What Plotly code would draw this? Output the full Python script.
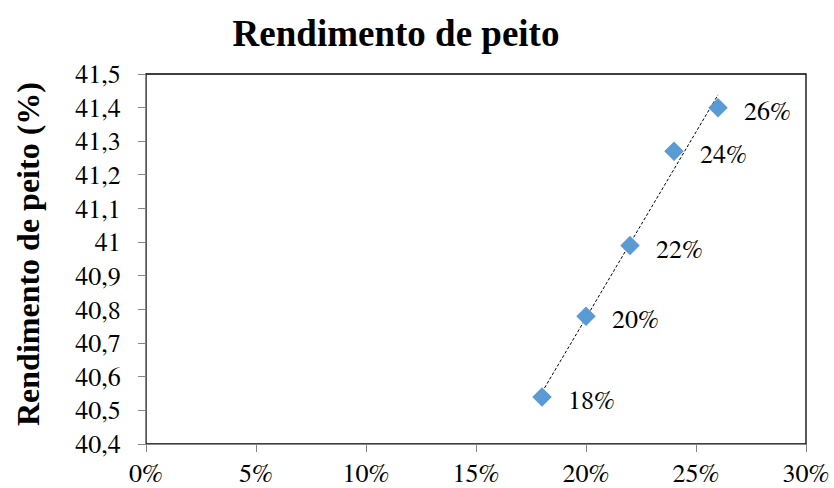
import numpy as np
import plotly.graph_objects as go

# Data
protein_level = [0.18, 0.20, 0.22, 0.24, 0.26]
breast_yield = [40.54, 40.78, 40.99, 41.27, 41.40]
point_labels = ["18%", "20%", "22%", "24%", "26%"]
y_tick_values = [40.4, 40.5, 40.6, 40.7, 40.8, 40.9, 41.0, 41.1, 41.2, 41.3, 41.4, 41.5]
y_tick_labels = ["40,4", "40,5", "40,6", "40,7", "40,8", "40,9", "41", "41,1", "41,2", "41,3", "41,4", "41,5"]
x_tick_values = [0, 0.05, 0.10, 0.15, 0.20, 0.25, 0.30]
x_tick_labels = ["0%", "5%", "10%", "15%", "20%", "25%", "30%"]

FONT_BOLD = "Liberation Serif, Times New Roman, serif"
FONT_REG = "FreeSerif, Liberation Serif, Times New Roman, serif"
W, H = 834, 488
L, R, T, B = 146, 28, 74, 44

# linear trendline (least squares fit of the series)
slope, intercept = np.polyfit(protein_level, breast_yield, 1)
tx = [min(protein_level), max(protein_level)]
ty = [slope * v + intercept for v in tx]

fig = go.Figure()
fig.add_trace(go.Scatter(
    x=tx, y=ty, mode="lines",
    line=dict(color="black", width=1, dash="3px,2px"),
    hoverinfo="skip", showlegend=False,
))
fig.add_trace(go.Scatter(
    x=protein_level, y=breast_yield, mode="markers",
    marker=dict(symbol="diamond", size=15, color="#5B9BD5", line=dict(width=0)),
    showlegend=False,
))

for xv, yv, lab in zip(protein_level, breast_yield, point_labels):
    fig.add_annotation(
        x=xv, y=yv, text=lab, showarrow=False,
        xanchor="left", yanchor="middle", xshift=24, yshift=-4,
        font=dict(family=FONT_REG, size=26, color="black"),
    )

fig.add_annotation(
    xref="paper", yref="paper",
    x=(28 - L) / (W - L - R), y=(H - B - 254) / (H - T - B),
    text="<b>Rendimento de peito (%)</b>", textangle=-90, showarrow=False,
    xanchor="center", yanchor="middle",
    font=dict(family=FONT_BOLD, size=32, color="black"),
)

fig.add_shape(type="rect", xref="paper", yref="paper", x0=0, y0=0, x1=1, y1=1,
              line=dict(color="black", width=1.3), layer="below")

axis_common = dict(
    showgrid=False, zeroline=False, showline=True, linecolor="#868686", linewidth=1.3,
    ticks="outside", ticklen=7, tickcolor="#868686", tickwidth=1, automargin=False,
    tickfont=dict(family=FONT_REG, size=26, color="black"),
)

fig.update_xaxes(range=[0, 0.30], tickvals=x_tick_values, ticktext=x_tick_labels,
                 ticklabelstandoff=-1, **axis_common)
fig.update_yaxes(range=[40.4, 41.5], tickvals=y_tick_values, ticktext=y_tick_labels,
                 ticklabelstandoff=12, **axis_common)

fig.update_layout(
    width=W, height=H,
    margin=dict(l=L, r=R, t=T, b=B, pad=0),
    paper_bgcolor="white", plot_bgcolor="white",
    title=dict(
        text="<b>Rendimento de peito</b>",
        x=396 / W, xref="container", xanchor="center",
        y=1 - 33 / H, yref="container", yanchor="middle",
        font=dict(family=FONT_BOLD, size=37, color="black"),
    ),
    font=dict(family=FONT_REG, color="black"),
)

fig.write_html("out.html")
